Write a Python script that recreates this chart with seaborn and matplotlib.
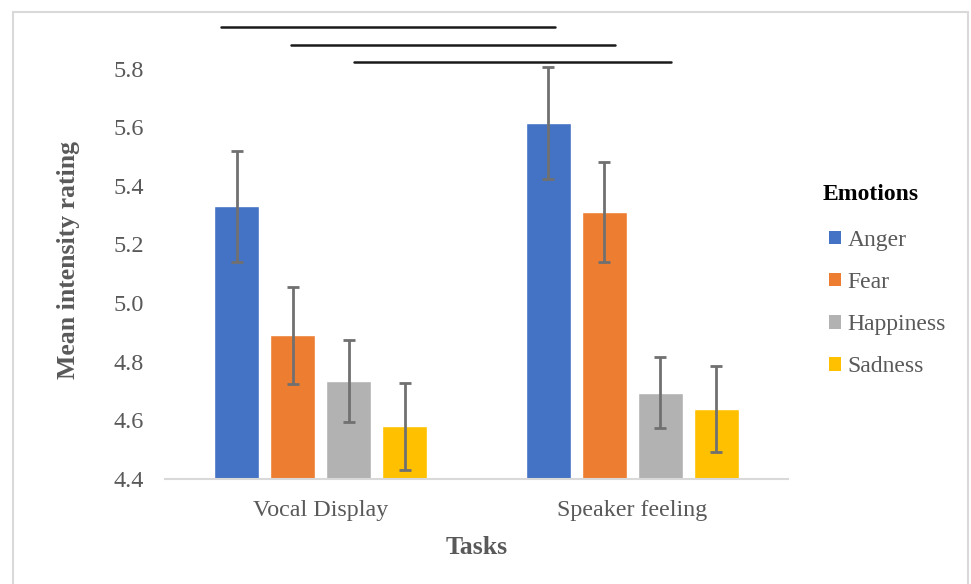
import matplotlib
matplotlib.use("Agg")
import matplotlib.pyplot as plt
from matplotlib.patches import Rectangle, Patch
import seaborn as sns
import pandas as pd

tasks = ["Vocal Display", "Speaker feeling"]
emotions = ["Anger", "Fear", "Happiness", "Sadness"]
vocal_means = [5.33, 4.89, 4.735, 4.58]
speaker_means = [5.615, 5.31, 4.695, 4.64]
vocal_err = [0.19, 0.165, 0.14, 0.148]
speaker_err = [0.19, 0.17, 0.12, 0.147]
colors = ["#4472C4", "#ED7D31", "#B2B2B2", "#FFC000"]
yticks = [4.4, 4.6, 4.8, 5.0, 5.2, 5.4, 5.6, 5.8]
# significance brackets: (x start, x end, y) in data units
sig_x0 = [-0.32, -0.095, 0.107]
sig_x1 = [0.752, 0.944, 1.126]
sig_y = [5.943, 5.882, 5.824]

rows = []
for t, means, errs in [(tasks[0], vocal_means, vocal_err), (tasks[1], speaker_means, speaker_err)]:
    for e, m, s in zip(emotions, means, errs):
        rows.append({"Task": t, "Emotion": e, "Mean": m, "SE": s})
df = pd.DataFrame(rows)

sns.set_theme(style="white")
plt.rcParams["font.family"] = ["Liberation Serif", "DejaVu Serif"]

fig = plt.figure(figsize=(9.71, 5.84), dpi=100)
ax = fig.add_axes([165 / 971, 1 - 479 / 584, (788 - 165) / 971, (479 - 10) / 584])

sns.barplot(data=df, x="Task", y="Mean", hue="Emotion", order=tasks,
            hue_order=emotions, palette=colors, width=0.72, gap=0.2,
            errorbar=None, ax=ax, legend=False, saturation=1)

# error bars from bar geometry
for cont, emo in zip(ax.containers, emotions):
    for bar, task in zip(cont, tasks):
        r = df[(df.Task == task) & (df.Emotion == emo)].iloc[0]
        xc = bar.get_x() + bar.get_width() / 2
        ax.errorbar(xc, r.Mean, yerr=r.SE, fmt="none", ecolor="#707070",
                    elinewidth=2, capsize=4.5, capthick=2, zorder=5)

for x0, x1, y in zip(sig_x0, sig_x1, sig_y):
    ax.plot([x0, x1], [y, y], color="#1a1a1a", lw=1.8, clip_on=False, zorder=6)

ax.set_xlim(-0.5, 1.5)
ax.set_ylim(4.4, 6.0)
ax.set_yticks(yticks)
ax.set_yticklabels([f"{v:.1f}" for v in yticks], fontsize=17.5, color="#595959")
ax.tick_params(axis="x", labelsize=17.3, labelcolor="#595959", length=0, pad=15)
ax.tick_params(axis="y", length=0, pad=15)
for s in ["top", "right", "left"]:
    ax.spines[s].set_visible(False)
ax.spines["bottom"].set_color("#d9d9d9")
ax.spines["bottom"].set_linewidth(1.5)

ax.set_xlabel("Tasks", fontsize=18.5, fontweight="bold", color="#595959")
ax.xaxis.set_label_coords(0.5, -0.1215)
ax.set_ylabel("Mean intensity rating", fontsize=18.5, fontweight="bold", color="#595959")
ax.yaxis.set_label_coords((80 - 165) / 623, (479 - 260) / 469)

handles = [Patch(facecolor=c, edgecolor="none") for c in colors]
leg = fig.legend(handles, emotions, loc="upper left", bbox_to_anchor=(824 / 971, 1 - 225 / 584),
                 frameon=False, fontsize=17, handlelength=0.5,
                 handleheight=0.5, handletextpad=0.3, labelspacing=0.9,
                 borderaxespad=0, borderpad=0.2)
for t in leg.get_texts():
    t.set_color("#595959")
fig.text(823 / 971, 1 - 194 / 584, "Emotions", fontsize=17, fontweight="bold",
         color="black", ha="left", va="center")

fig.patches.append(Rectangle((13 / 971, -0.05), (968 - 13) / 971, 1.05 - 12 / 584,
                             transform=fig.transFigure, fill=False,
                             edgecolor="#d9d9d9", lw=1.5))

fig.savefig("out.png", dpi=100)
